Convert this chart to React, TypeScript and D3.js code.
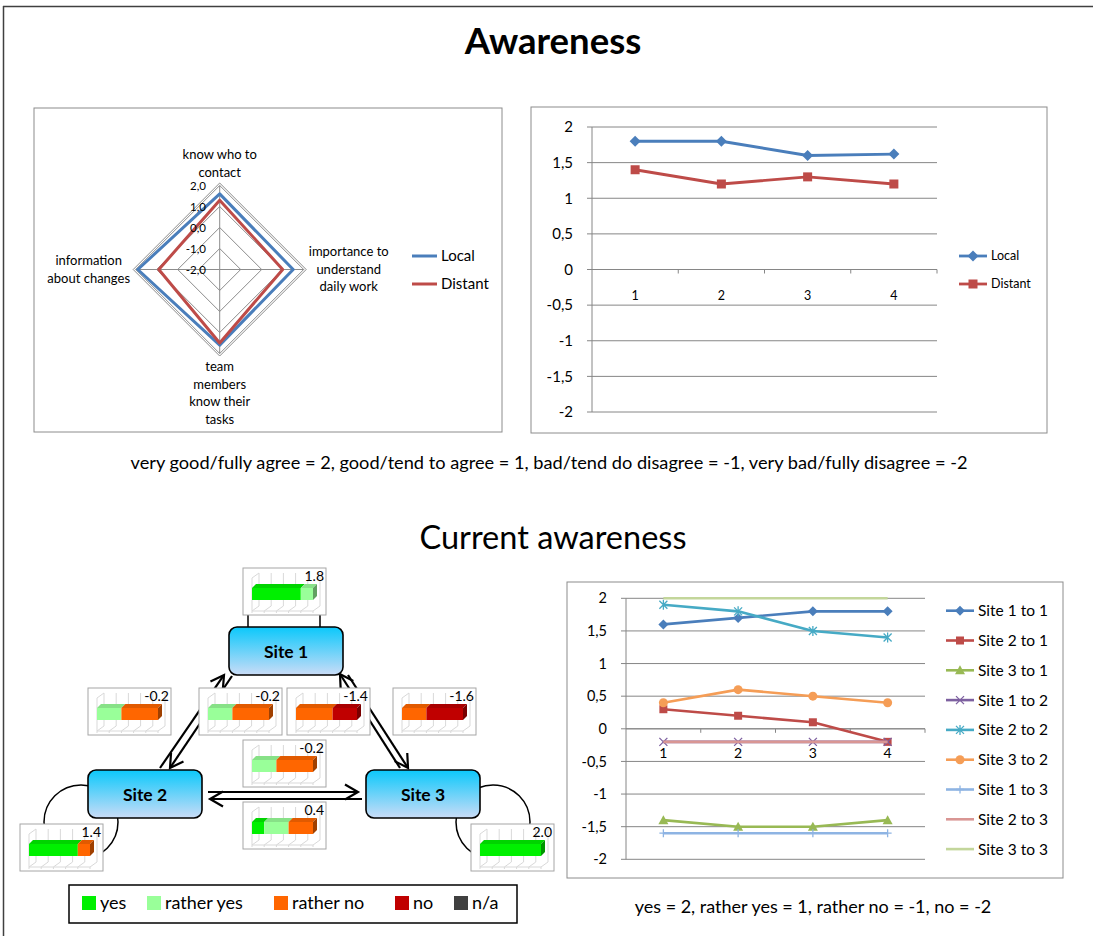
import React from "react";
import * as d3 from "d3";

const FONT = "Lato, 'Open Sans', sans-serif";

// ---------------- Data ----------------
const radarCategories = [
  ["know who to", "contact"],
  ["importance to", "understand", "daily work"],
  ["team", "members", "know their", "tasks"],
  ["information", "about changes"],
];
const radarTicks = [-2, -1, 0, 1, 2];
const radarLocal = [1.6, 1.5, 1.6, 1.9];
const radarDistant = [1.3, 1.0, 1.5, 0.9];

const weeks = ["1", "2", "3", "4"];
const yTicks = [2, 1.5, 1, 0.5, 0, -0.5, -1, -1.5, -2];
const lineLocal = [1.8, 1.8, 1.6, 1.62];
const lineDistant = [1.4, 1.2, 1.3, 1.2];

const site1to1 = [1.6, 1.7, 1.8, 1.8];
const site2to1 = [0.3, 0.2, 0.1, -0.2];
const site3to1 = [-1.4, -1.5, -1.5, -1.4];
const site1to2 = [-0.2, -0.2, -0.2, -0.2];
const site2to2 = [1.9, 1.8, 1.5, 1.4];
const site3to2 = [0.4, 0.6, 0.5, 0.4];
const site1to3 = [-1.6, -1.6, -1.6, -1.6];
const site2to3 = [-0.2, -0.2, -0.2, -0.2];
const site3to3 = [2, 2, 2, 2];

const relationNames = [
  "Site 1 to 1", "Site 2 to 1", "Site 3 to 1",
  "Site 1 to 2", "Site 2 to 2", "Site 3 to 2",
  "Site 1 to 3", "Site 2 to 3", "Site 3 to 3",
];
const relationValues = [site1to1, site2to1, site3to1, site1to2, site2to2, site3to2, site1to3, site2to3, site3to3];
const relationColors = ["#4A7EBB", "#BE4B48", "#98B954", "#7D60A0", "#46AAC5", "#F59D56", "#8EB4E3", "#D99694", "#C3D69B"];
const relationMarkers = ["diamond", "square", "triangle", "x", "star", "circle", "plus", "none", "none"];

const answerNames = ["yes", "rather yes", "rather no", "no", "n/a"];
const answerColors = ["#00F000", "#99FF99", "#FF6600", "#C00000", "#404040"];
// share of answers per relation (yes, rather yes, rather no, no, n/a)
const relationShares = [
  [0.8, 0.2, 0, 0, 0],
  [0, 0.4, 0.6, 0, 0],
  [0, 0, 0.6, 0.4, 0],
  [0, 0.4, 0.6, 0, 0],
  [0.8, 0, 0.2, 0, 0],
  [0.2, 0.4, 0.4, 0, 0],
  [0, 0, 0.4, 0.6, 0],
  [0, 0.4, 0.6, 0, 0],
  [1, 0, 0, 0, 0],
];
const relationScores = ["1.8", "-0.2", "-1.4", "-0.2", "1.4", "0.4", "-1.6", "-0.2", "2.0"];

const siteNames = ["Site 1", "Site 2", "Site 3"];

const captionTop = "very good/fully agree = 2, good/tend to agree = 1, bad/tend do disagree = -1, very bad/fully disagree = -2";
const captionBottom = "yes = 2, rather yes = 1, rather no = -1, no = -2";

// ---------------- helpers ----------------
const comma = (v: number) => String(v).replace(".", ",");
const comma1 = (v: number) => v.toFixed(1).replace(".", ",");

function Marker({ type, x, y, s, color }: any) {
  const h = s / 2;
  switch (type) {
    case "diamond":
      return <polygon points={`${x},${y - h - 1} ${x + h + 1},${y} ${x},${y + h + 1} ${x - h - 1},${y}`} fill={color} />;
    case "square":
      return <rect x={x - h} y={y - h} width={s} height={s} fill={color} />;
    case "triangle":
      return <polygon points={`${x},${y - h - 1} ${x + h + 1},${y + h} ${x - h - 1},${y + h}`} fill={color} />;
    case "circle":
      return <circle cx={x} cy={y} r={h + 0.5} fill={color} />;
    case "x":
      return <path d={`M${x - h},${y - h}L${x + h},${y + h}M${x - h},${y + h}L${x + h},${y - h}`} stroke={color} strokeWidth={1.3} />;
    case "star":
      return <path d={`M${x - h},${y - h}L${x + h},${y + h}M${x - h},${y + h}L${x + h},${y - h}M${x},${y - h - 1}L${x},${y + h + 1}`} stroke={color} strokeWidth={1.3} />;
    case "plus":
      return <path d={`M${x - h},${y}L${x + h},${y}M${x},${y - h}L${x},${y + h}`} stroke={color} strokeWidth={1.3} />;
    default:
      return null;
  }
}

function LineChart({ box, plot, series, yFont, xFont, xLabelDy, legend, markerSize, lineWidth }: any) {
  const x = d3.scaleBand().domain(weeks).range([plot.x0, plot.x1]);
  const y = d3.scaleLinear().domain([-2, 2]).range([plot.yBottom, plot.yTop]);
  const cx = (d: string) => (x(d) as number) + x.bandwidth() / 2;
  const line = d3.line<number>().x((_, i) => cx(weeks[i])).y((v) => y(v));
  const grid = "#868686";
  return (
    <g>
      <rect x={box.x} y={box.y} width={box.w} height={box.h} fill="#fff" stroke="#8C8C8C" strokeWidth={1} />
      {yTicks.map((t) => (
        <g key={t}>
          <line x1={plot.x0 - 5} x2={plot.x1} y1={y(t)} y2={y(t)} stroke={grid} strokeWidth={1} />
          <text x={plot.x0 - 19} y={y(t)} dy="0.35em" textAnchor="end" fontSize={yFont} fontFamily={FONT} fill="#000">{comma(t)}</text>
        </g>
      ))}
      <line x1={plot.x0} x2={plot.x0} y1={plot.yTop} y2={plot.yBottom} stroke={grid} strokeWidth={1} />
      <line x1={plot.x0} x2={plot.x1} y1={y(0)} y2={y(0)} stroke={grid} strokeWidth={1} />
      {weeks.map((w) => (
        <line key={w} x1={(x(w) as number) + x.bandwidth()} x2={(x(w) as number) + x.bandwidth()} y1={y(0)} y2={y(0) + 4} stroke={grid} strokeWidth={1} />
      ))}
      {weeks.map((w) => (
        <text key={w} x={cx(w)} y={y(0) + xLabelDy} textAnchor="middle" fontSize={xFont} fontFamily={FONT} fill="#000">{w}</text>
      ))}
      {series.map((s: any) => (
        <g key={s.name}>
          <path d={line(s.values) as string} fill="none" stroke={s.color} strokeWidth={lineWidth} strokeLinejoin="round" />
          {s.values.map((v: number, i: number) => (
            <Marker key={i} type={s.marker} x={cx(weeks[i])} y={y(v)} s={markerSize} color={s.color} />
          ))}
        </g>
      ))}
      {series.map((s: any, i: number) => {
        const ly = legend.y0 + i * legend.step;
        return (
          <g key={s.name}>
            <line x1={legend.x0} x2={legend.x1} y1={ly} y2={ly} stroke={s.color} strokeWidth={lineWidth} />
            <Marker type={s.marker} x={(legend.x0 + legend.x1) / 2} y={ly} s={markerSize} color={s.color} />
            <text x={legend.x1 + 4} y={ly} dy="0.35em" fontSize={legend.font} fontFamily={FONT} fill="#000">{s.name}</text>
          </g>
        );
      })}
    </g>
  );
}

function Radar() {
  const cx = 219.7, cy = 269.5, R = 84;
  const r = d3.scaleLinear().domain([-2, 2]).range([0, R]);
  const ang = radarCategories.map((_, i) => -Math.PI / 2 + (i * Math.PI) / 2);
  const pt = (rad: number, i: number): [number, number] => [cx + rad * Math.cos(ang[i]), cy + rad * Math.sin(ang[i])];
  const poly = (vals: number[]) => (d3.line()(vals.map((v, i) => pt(r(v), i))) as string) + "Z";
  const ring = (rad: number) => (d3.line()(ang.map((_, i) => pt(rad, i))) as string) + "Z";
  const grid = "#8C8C8C";
  const lineH = 17.6;
  return (
    <g>
      <rect x={34} y={108} width={468} height={324} fill="#fff" stroke="#8C8C8C" strokeWidth={1} />
      {radarTicks.slice(1).map((t) => (
        <path key={t} d={ring(r(t))} fill="none" stroke={grid} strokeWidth={1} />
      ))}
      <path d={ring(r(2) + 2.5)} fill="none" stroke={grid} strokeWidth={1} />
      {ang.map((_, i) => {
        const [x2, y2] = pt(r(2), i);
        return <line key={i} x1={cx} y1={cy} x2={x2} y2={y2} stroke={grid} strokeWidth={1} />;
      })}
      <path d={poly(radarLocal)} fill="none" stroke="#4A7EBB" strokeWidth={3} strokeLinejoin="round" />
      <path d={poly(radarDistant)} fill="none" stroke="#BE4B48" strokeWidth={3} strokeLinejoin="round" />
      {radarTicks.map((t) => (
        <text key={t} x={206} y={cy - r(t)} dy="0.35em" textAnchor="end" fontSize={11.5} fontFamily={FONT} fill="#000">{comma1(t)}</text>
      ))}
      {radarCategories.map((lines, i) => {
        const [vx, vy] = pt(r(2), i);
        let ax = vx, firstY = 0;
        if (i === 0) firstY = vy - 13.5 - (lines.length - 1) * lineH;
        if (i === 1) { ax = vx + 45; firstY = cy - ((lines.length - 1) * lineH) / 2 - 0.5; }
        if (i === 2) firstY = vy + 13;
        if (i === 3) { ax = vx - 47; firstY = cy - ((lines.length - 1) * lineH) / 2; }
        return (
          <text key={i} textAnchor="middle" fontSize={13} fontFamily={FONT} fill="#000">
            {lines.map((l, j) => (
              <tspan key={j} x={ax} y={firstY + j * lineH} dy="0.35em">{l}</tspan>
            ))}
          </text>
        );
      })}
      {[["Local", "#4A7EBB"], ["Distant", "#BE4B48"]].map(([n, c], i) => (
        <g key={n}>
          <line x1={412} x2={437} y1={256 + i * 28} y2={256 + i * 28} stroke={c} strokeWidth={3} />
          <text x={441} y={256 + i * 28} dy="0.35em" fontSize={15} fontFamily={FONT} fill="#000">{n}</text>
        </g>
      ))}
    </g>
  );
}

function MiniChart({ x, y, shares, label }: any) {
  const W = 83, H = 47;
  const bx = d3.scaleLinear().domain([0, 1]).range([x + 9, x + 70]);
  const dX = 4, dY = 4;
  const wallX0 = x + 16, wallStep = 12.2;
  const gc = "#D9D9D9";
  const cum = d3.cumsum(shares);
  const segs = shares.map((s: number, i: number) => ({ s, i, start: cum[i] - s, end: cum[i] })).filter((d: any) => d.s > 0);
  const last = segs[segs.length - 1];
  const ft = y + 20, fb = y + 32;
  return (
    <g>
      <rect x={x} y={y} width={W} height={H} fill="#fff" stroke="#A6A6A6" strokeWidth={1} />
      {d3.range(6).map((k) => (
        <g key={k}>
          <line x1={wallX0 + k * wallStep} x2={wallX0 + k * wallStep} y1={y + 5} y2={y + 38} stroke={gc} strokeWidth={1} />
          <line x1={wallX0 + k * wallStep} x2={wallX0 + k * wallStep - 7} y1={y + 38} y2={y + 43} stroke={gc} strokeWidth={1} />
          <line x1={wallX0 + k * wallStep - 7} x2={wallX0 + k * wallStep - 7} y1={y + 43} y2={y + 45} stroke={gc} strokeWidth={1} />
        </g>
      ))}
      <line x1={x + 9} x2={wallX0} y1={y + 10} y2={y + 5} stroke={gc} strokeWidth={1} />
      <line x1={x + 9} x2={x + 9} y1={y + 10} y2={y + 43} stroke={gc} strokeWidth={1} />
      <line x1={x + 9} x2={x + 70} y1={y + 43} y2={y + 43} stroke={gc} strokeWidth={1} />
      {segs.map((d: any) => {
        const c = answerColors[d.i];
        const x0 = bx(d.start), x1 = bx(d.end);
        return (
          <g key={d.i}>
            <polygon points={`${x0},${ft} ${x0 + dX},${ft - dY} ${x1 + dX},${ft - dY} ${x1},${ft}`} fill={d3.color(c)!.darker(0.35).toString()} />
            <rect x={x0} y={ft} width={x1 - x0} height={fb - ft} fill={c} />
          </g>
        );
      })}
      {last && (
        <polygon
          points={`${bx(1)},${ft} ${bx(1) + dX},${ft - dY} ${bx(1) + dX},${fb - dY} ${bx(1)},${fb}`}
          fill={d3.color(answerColors[last.i])!.darker(1.3).toString()}
        />
      )}
      <text x={x + W - 2} y={y + 8} dy="0.35em" textAnchor="end" fontSize={14} fontFamily={FONT} fill="#000">{label}</text>
    </g>
  );
}

function Arrow({ x1, y1, x2, y2 }: any) {
  const dx = x2 - x1, dy = y2 - y1, L = Math.hypot(dx, dy);
  const ux = dx / L, uy = dy / L, px = -uy, py = ux;
  const hl = 13, hw = 7.5;
  return (
    <g>
      <line x1={x1} y1={y1} x2={x2 - ux * 1.5} y2={y2 - uy * 1.5} stroke="#000" strokeWidth={2.2} />
      <polyline
        points={`${x2 - ux * hl + px * hw},${y2 - uy * hl + py * hw} ${x2},${y2} ${x2 - ux * hl - px * hw},${y2 - uy * hl - py * hw}`}
        fill="none" stroke="#000" strokeWidth={2.2} strokeLinejoin="miter"
      />
    </g>
  );
}

function Diagram() {
  const sitePos: Record<string, [number, number]> = { "Site 1": [229, 627], "Site 2": [88, 770], "Site 3": [366, 770] };
  const miniPos: Record<string, [number, number]> = {
    "Site 1 to 1": [243, 568],
    "Site 2 to 1": [88, 688],
    "Site 1 to 2": [199, 688],
    "Site 3 to 1": [287, 688],
    "Site 1 to 3": [393, 688],
    "Site 2 to 3": [243, 740],
    "Site 3 to 2": [243, 802],
    "Site 2 to 2": [20, 824],
    "Site 3 to 3": [471, 824],
  };
  return (
    <g>
      <defs>
        <linearGradient id="siteGrad" x1="0" y1="0" x2="0" y2="1">
          <stop offset="0" stopColor="#0BC8FB" />
          <stop offset="1" stopColor="#CADCF7" />
        </linearGradient>
      </defs>
      <path d="M248,627 V598 A36,22 0 0 1 320,598 V627" fill="none" stroke="#000" strokeWidth={1.5} />
      <circle cx={81} cy={822} r={37} fill="none" stroke="#000" strokeWidth={1.5} />
      <circle cx={493} cy={822} r={37} fill="none" stroke="#000" strokeWidth={1.5} />
      <Arrow x1={160} y1={768} x2={224} y2={675} />
      <Arrow x1={232} y1={676} x2={170} y2={768} />
      <Arrow x1={400} y1={768} x2={340} y2={674} />
      <Arrow x1={348} y1={675} x2={408} y2={768} />
      <Arrow x1={208} y1={792} x2={358} y2={792} />
      <Arrow x1={362} y1={799} x2={210} y2={799} />
      {siteNames.map((s) => {
        const [sx, sy] = sitePos[s];
        return (
          <g key={s}>
            <rect x={sx} y={sy} width={114} height={48} rx={8} fill="url(#siteGrad)" stroke="#000" strokeWidth={1.6} />
            <text x={sx + 57} y={sy + 25} dy="0.35em" textAnchor="middle" fontSize={17.5} fontWeight="bold" fontFamily={FONT} fill="#000">{s}</text>
          </g>
        );
      })}
      {relationNames.map((n, i) => {
        const [mx, my] = miniPos[n];
        return <MiniChart key={n} x={mx} y={my} shares={relationShares[i]} label={relationScores[i]} />;
      })}
      <rect x={69} y={885} width={448} height={38} fill="#fff" stroke="#000" strokeWidth={1.5} />
      {answerNames.map((a, i) => {
        const lx = [82, 147, 274, 395, 454][i];
        return (
          <g key={a}>
            <rect x={lx} y={896} width={14} height={14} fill={answerColors[i]} />
            <text x={lx + 18} y={903} dy="0.35em" fontSize={18} fontFamily={FONT} fill="#000">{a}</text>
          </g>
        );
      })}
    </g>
  );
}

export default function App() {
  const topSeries = [
    { name: "Local", values: lineLocal, color: "#4A7EBB", marker: "diamond" },
    { name: "Distant", values: lineDistant, color: "#BE4B48", marker: "square" },
  ];
  const siteSeries = relationNames.map((n, i) => ({ name: n, values: relationValues[i], color: relationColors[i], marker: relationMarkers[i] }));
  return (
    <svg width={1093} height={936} style={{ position: "absolute", left: 0, top: 0, background: "#fff" }}>
      <rect x={0} y={0} width={1093} height={936} fill="#fff" />
      <line x1={3} y1={6.5} x2={1093} y2={6.5} stroke="#404040" strokeWidth={1.5} />
      <line x1={3.5} y1={6} x2={3.5} y2={936} stroke="#404040" strokeWidth={1.5} />
      <text x={553} y={41} dy="0.35em" textAnchor="middle" fontSize={36.5} fontWeight="bold" fontFamily={FONT} fill="#000">Awareness</text>
      <Radar />
      <LineChart
        box={{ x: 531, y: 107, w: 516, h: 326 }}
        plot={{ x0: 592, x1: 937, yTop: 127, yBottom: 412 }}
        series={topSeries}
        yFont={15}
        xFont={12.5}
        xLabelDy={30}
        legend={{ x0: 959, x1: 987, y0: 256, step: 28, font: 12.5 }}
        markerSize={9}
        lineWidth={2.8}
      />
      <text x={549} y={463} dy="0.35em" textAnchor="middle" fontSize={18.2} fontFamily={FONT} fill="#000">{captionTop}</text>
      <text x={553} y={538} dy="0.35em" textAnchor="middle" fontSize={32.5} fontFamily={FONT} fill="#000">Current awareness</text>
      <Diagram />
      <LineChart
        box={{ x: 567, y: 582, w: 496, h: 296 }}
        plot={{ x0: 626, x1: 925, yTop: 598.3, yBottom: 859.3 }}
        series={siteSeries}
        yFont={14.5}
        xFont={14}
        xLabelDy={29}
        legend={{ x0: 946, x1: 974, y0: 610.7, step: 29.8, font: 15.5 }}
        markerSize={8}
        lineWidth={2.6}
      />
      <text x={813} y={907} dy="0.35em" textAnchor="middle" fontSize={18} fontFamily={FONT} fill="#000">{captionBottom}</text>
    </svg>
  );
}
